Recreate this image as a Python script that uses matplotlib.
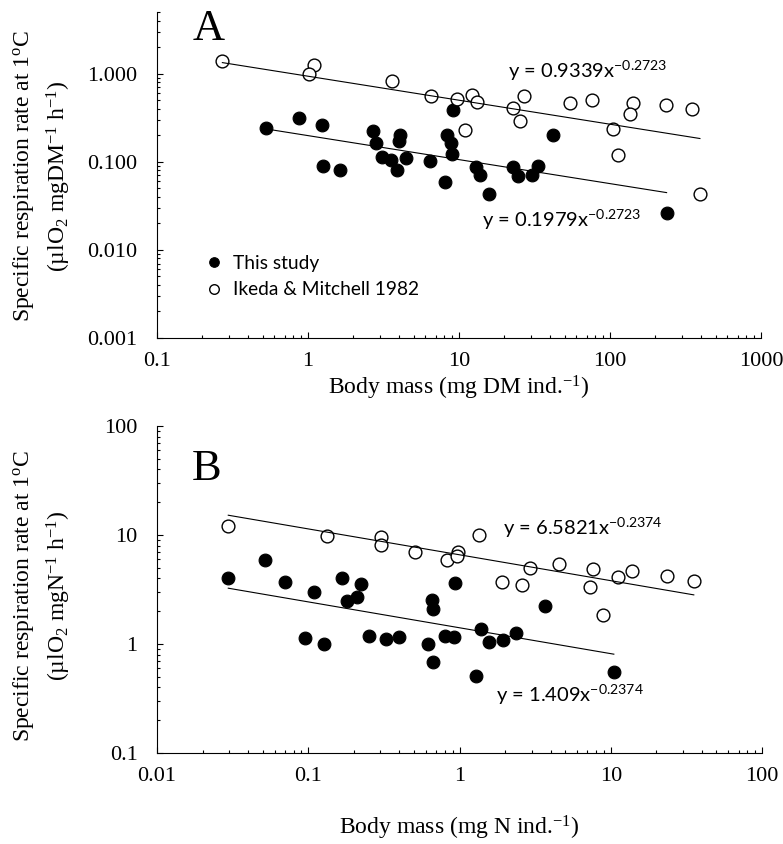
import numpy as np
import matplotlib
matplotlib.use('Agg')
import matplotlib.pyplot as plt
from matplotlib.ticker import LogLocator, FuncFormatter, NullFormatter

# SECTION 1 : DATA
#-----------------------------------------------

# panel A : body mass in mg DM, specific respiration in ul O2 mgDM-1 h-1
a_this_x = [0.527, 0.872, 1.244, 1.263, 1.63, 2.68, 2.82, 4.07, 3.99, 3.08, 3.55, 4.44, 3.90,
            6.43, 8.29, 8.81, 8.95, 9.17, 8.07, 12.96, 13.7, 15.9, 22.7, 24.6, 30.6, 33.5, 41.7, 237]
a_this_y = [0.239, 0.316, 0.259, 0.0906, 0.0796, 0.221, 0.165, 0.199, 0.170, 0.113, 0.106, 0.1115, 0.080,
            0.101, 0.203, 0.164, 0.1226, 0.382, 0.0591, 0.0867, 0.0704, 0.043, 0.0873, 0.0686, 0.0704, 0.0889, 0.201, 0.026]
a_ikeda_x = [0.271, 1.10, 1.02, 3.62, 6.49, 9.74, 12.2, 13.06, 10.96, 27.1, 22.9, 25.4, 54.3,
             76.0, 141, 136, 235, 347, 104, 113.5, 394]
a_ikeda_y = [1.40, 1.25, 0.99, 0.83, 0.56, 0.52, 0.574, 0.474, 0.23, 0.554, 0.405, 0.289, 0.462,
             0.504, 0.467, 0.344, 0.435, 0.392, 0.237, 0.119, 0.0426]

# panel B : body mass in mg N, specific respiration in ul O2 mgN-1 h-1
b_this_x = [0.0296, 0.0518, 0.070, 0.109, 0.167, 0.223, 0.209, 0.181, 0.654, 0.67, 0.932, 0.095,
            0.1264, 0.253, 0.3263, 0.3995, 0.621, 0.67, 0.80, 0.923, 3.68, 1.379, 1.571, 1.945,
            2.36, 1.289, 10.48]
b_this_y = [4.06, 5.90, 3.73, 3.02, 4.00, 3.53, 2.72, 2.50, 2.53, 2.09, 3.65, 1.14,
            0.99, 1.19, 1.10, 1.17, 1.00, 0.689, 1.19, 1.17, 2.22, 1.37, 1.04, 1.09,
            1.25, 0.512, 0.557]
b_ikeda_x = [0.0296, 0.1334, 0.304, 0.301, 0.509, 0.825, 0.975, 0.957, 1.349, 1.905, 2.597,
             2.904, 4.54, 7.61, 7.28, 11.2, 13.8, 23.6, 35.4, 8.95]
b_ikeda_y = [12.2, 9.85, 9.65, 8.04, 6.94, 5.90, 6.98, 6.46, 10.0, 3.73, 3.48,
             5.01, 5.42, 4.91, 3.31, 4.14, 4.67, 4.23, 3.81, 1.845]

# power-law trend lines y = a * x^b
a_fit = {'this': 0.1979, 'ikeda': 0.9339, 'b': -0.2723}
b_fit = {'this': 1.409, 'ikeda': 6.5821, 'b': -0.2374}

# SECTION 2 : STYLE
#-----------------------------------------------

plt.rcParams['font.family'] = 'Liberation Serif'
plt.rcParams['mathtext.fontset'] = 'custom'
plt.rcParams['mathtext.rm'] = 'Liberation Serif'
plt.rcParams['mathtext.it'] = 'Liberation Serif:italic'
plt.rcParams['mathtext.sf'] = 'Lato'
plt.rcParams['axes.linewidth'] = 0.8

serif_size = 16
label_size = 17
sans = 'Lato'

fig = plt.figure(figsize=(7.83, 8.44), dpi=100)
axA = fig.add_axes([0.2005, 0.5995, 0.7714, 0.3863])
axB = fig.add_axes([0.2005, 0.1078, 0.7727, 0.3875])


def power_line(ax, xs, coef, expo):
    xf = np.logspace(np.log10(min(xs)), np.log10(max(xs)), 60)
    ax.plot(xf, coef * xf ** expo, color='black', lw=0.8, zorder=5)


def style_axes(ax, xlim, ylim, yticks, xticks, yfmt):
    ax.set_xscale('log')
    ax.set_yscale('log')
    ax.set_xlim(*xlim)
    ax.set_ylim(*ylim)
    for s in ['top', 'right']:
        ax.spines[s].set_visible(False)
    ax.set_xticks(xticks)
    ax.set_yticks(yticks)
    ax.xaxis.set_minor_locator(LogLocator(base=10, subs=np.arange(2, 10)))
    ax.yaxis.set_minor_locator(LogLocator(base=10, subs=np.arange(2, 10)))
    ax.xaxis.set_minor_formatter(NullFormatter())
    ax.yaxis.set_minor_formatter(NullFormatter())
    ax.xaxis.set_major_formatter(FuncFormatter(lambda v, p: '%g' % v))
    ax.yaxis.set_major_formatter(FuncFormatter(yfmt))
    ax.tick_params(which='major', direction='in', length=4.5, width=0.8, labelsize=serif_size)
    ax.tick_params(which='minor', direction='in', length=2.5, width=0.8)
    ax.tick_params(axis='y', which='major', pad=14)
    ax.tick_params(axis='x', which='major', pad=10)


# SECTION 3 : PANEL A
#-----------------------------------------------

style_axes(axA, (0.1, 1000), (0.001, 5), [0.001, 0.01, 0.1, 1], [0.1, 1, 10, 100, 1000],
           lambda v, p: '%.3f' % v)
axA.plot(a_this_x, a_this_y, 'o', ms=9.2, mfc='black', mec='black', mew=0.8, ls='none',
         label='This study', zorder=3)
axA.plot(a_ikeda_x, a_ikeda_y, 'o', ms=9.2, mfc='white', mec='black', mew=1.0, ls='none',
         label='Ikeda & Mitchell 1982', zorder=4)
power_line(axA, a_ikeda_x, a_fit['ikeda'], a_fit['b'])
power_line(axA, a_this_x, a_fit['this'], a_fit['b'])
axA.text(21.1, 0.90, r'y = 0.9339x$^{\mathsf{-0.2723}}$', family=sans, fontsize=14.5, va='baseline')
axA.text(14.2, 0.0182, r'y = 0.1979x$^{\mathsf{-0.2723}}$', family=sans, fontsize=14.5, va='baseline')
axA.text(0.173, 2.42, 'A', fontsize=32, va='baseline')
axA.set_xlabel(r'Body mass (mg DM ind.$^{-1}$)', fontsize=label_size, labelpad=2)
leg = axA.legend(loc='upper left', bbox_to_anchor=(0.078, 0.255), frameon=False,
                 prop={'family': sans, 'size': 13.8}, markerscale=0.75, handlelength=1.0,
                 handletextpad=0.5, labelspacing=0.5, borderpad=0, borderaxespad=0)

# SECTION 4 : PANEL B
#-----------------------------------------------

style_axes(axB, (0.01, 100), (0.1, 100), [0.1, 1, 10, 100], [0.01, 0.1, 1, 10, 100],
           lambda v, p: '%g' % v)
axB.plot(b_this_x, b_this_y, 'o', ms=9.2, mfc='black', mec='black', mew=0.8, ls='none', zorder=3)
axB.plot(b_ikeda_x, b_ikeda_y, 'o', ms=9.2, mfc='white', mec='black', mew=1.0, ls='none', zorder=4)
power_line(axB, b_ikeda_x, b_fit['ikeda'], b_fit['b'])
power_line(axB, b_this_x, b_fit['this'], b_fit['b'])
axB.text(1.94, 10.0, r'y = 6.5821x$^{\mathsf{-0.2374}}$', family=sans, fontsize=14.5, va='baseline')
axB.text(1.74, 0.294, r'y = 1.409x$^{\mathsf{-0.2374}}$', family=sans, fontsize=14.5, va='baseline')
axB.text(0.017, 32, 'B', fontsize=32, va='baseline')
axB.set_xlabel(r'Body mass (mg N ind.$^{-1}$)', fontsize=label_size, labelpad=20)

# y labels, two lines each
fig.text(42 / 783, 1 - 176 / 844, 'Specific respiration rate at 1$^{\\mathrm{o}}$C\n'
         r'(µlO$_2$ mgDM$^{-1}$ h$^{-1}$)', rotation=90, ha='center', va='center',
         multialignment='center', fontsize=label_size, linespacing=1.4)
fig.text(42 / 783, 1 - 596 / 844, 'Specific respiration rate at 1$^{\\mathrm{o}}$C\n'
         r'(µlO$_2$ mgN$^{-1}$ h$^{-1}$)', rotation=90, ha='center', va='center',
         multialignment='center', fontsize=label_size, linespacing=1.4)

fig.savefig('out.png', dpi=100)
